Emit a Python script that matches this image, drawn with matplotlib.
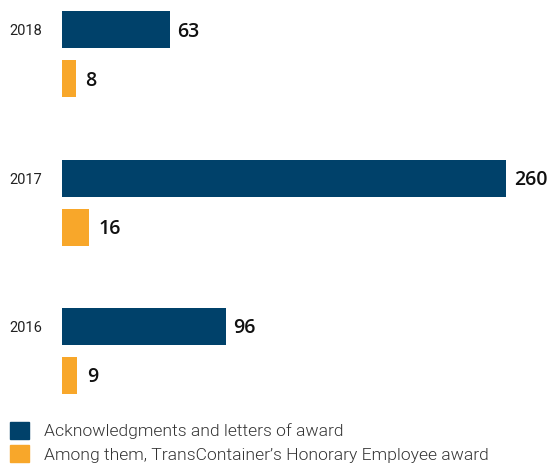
import matplotlib
matplotlib.use("Agg")
from matplotlib import pyplot as plt
from matplotlib import font_manager as fm
from matplotlib.patches import Patch
import numpy as np

years = ["2018", "2017", "2016"]
acknowledgments = [63, 260, 96]
honorary = [8, 16, 9]
labels = ["Acknowledgments and letters of award",
          "Among them, TransContainer\u2019s Honorary Employee award"]

navy = "#00416A"
orange = "#F8A72A"


def font_file(name, weight):
    for f in fm.fontManager.ttflist:
        if f.name == name and f.weight == weight and f.style == "normal":
            return f.fname
    return None


roboto = font_file("Roboto", 400)
roboto_light = font_file("Roboto", 300)
opensans_bold = font_file("Open Sans", 600)

fig = plt.figure(figsize=(5.5, 4.65), dpi=100)
ax = fig.add_axes([62 / 550, 0, 488 / 550, 1])

pos = np.arange(len(years))
off = 0.33
h = 0.25
ax.barh(pos, acknowledgments, height=h, color=navy)
ax.barh(pos + off, honorary, height=h, color=orange)

# value labels to the right of each bar
val_font = fm.FontProperties(fname=opensans_bold, size=14)
for y, v in zip(pos, acknowledgments):
    ax.text(v + 4.5, y + 0.012, str(v), va="center", ha="left", fontproperties=val_font,
            color="#111111")
for y, v in zip(pos, honorary):
    ax.text(v + 5.5, y + off + 0.012, str(v), va="center", ha="left", fontproperties=val_font,
            color="#111111")

ax.set_xlim(0, 285.8)
ax.set_ylim(2.934, -0.201)
ax.set_yticks(pos)
ax.set_yticklabels(years, fontproperties=fm.FontProperties(fname=roboto, size=10.5),
                   color="#222222")
ax.tick_params(axis="y", length=0, pad=14.4)
ax.set_xticks([])
for s in ax.spines.values():
    s.set_visible(False)

handles = [Patch(color=navy), Patch(color=orange)]
leg = fig.legend(handles, labels, loc="upper left",
                 bbox_to_anchor=(10 / 550, (465 - 422) / 465),
                 frameon=False, borderpad=0, borderaxespad=0,
                 handlelength=1.07, handleheight=1.12, handletextpad=0.87,
                 labelspacing=0.32,
                 prop=fm.FontProperties(fname=roboto_light, size=12.6))
for t in leg.get_texts():
    t.set_color("#333333")

fig.savefig("out.png", dpi=100)
